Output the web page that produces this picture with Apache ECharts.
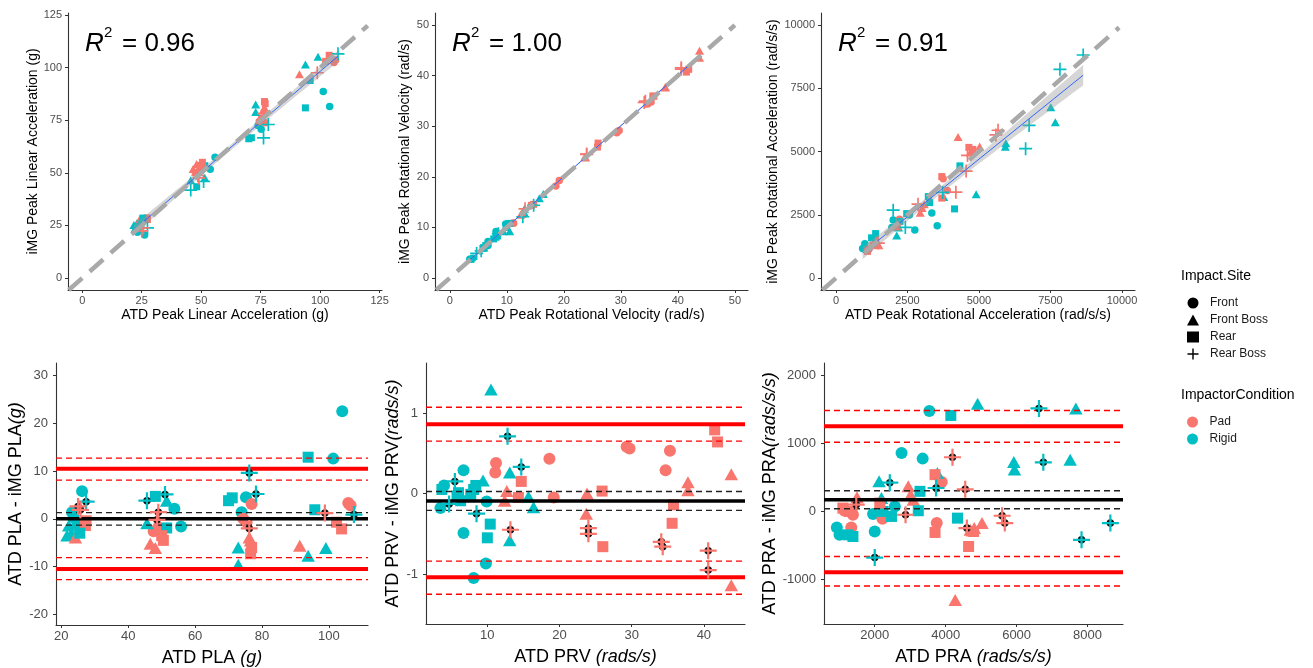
<!DOCTYPE html>
<html><head><meta charset="utf-8">
<script src="https://cdn.jsdelivr.net/npm/echarts@6/dist/echarts.min.js"></script>
<style>html,body{margin:0;padding:0;background:#fff}#c{width:1313px;height:668px}</style>
</head><body><div id="c"></div>
<script>
// ---------------- DATA ----------------
// PLA: ATD peak linear acceleration (g) and ATD - iMG difference
const plaAtd = [26.2,27.4,25.0,25.7,23.2,23.7,23.0,25.2,21.7,24.7,22.2,27.2,27.4,24.2,25.5,
  45.6,48.1,51.0,51.5,53.8,55.8,51.5,49.0,45.6,48.6,46.6,48.1,50.5,50.0,47.6,49.0,
  76.2,70.0,71.1,75.2,78.2,76.9,73.9,74.4,75.4,76.2,76.2,76.6,76.6,76.9,72.9,72.9,
  93.8,101.3,104.0,95.8,98.8,102.3,103.8,105.8,106.5,107.5,91.3,93.8,99.1];
const plaDiff = [5.8,3.6,2.6,1.9,1.4,0.3,-3.1,-2.5,-3.5,-1.0,-1.4,-1.4,-0.4,-3.9,-3.0,
  3.8,4.7,5.1,3.8,2.1,-1.6,-1.9,1.4,-0.9,-0.2,-5.2,-6.1,-4.5,-3.5,-2.6,-1.8,
  9.6,3.8,4.4,4.5,5.2,3.1,1.4,0.0,-0.7,-2.0,-3.9,-4.5,-7.3,-6.0,-6.0,-9.6,
  12.9,12.6,22.5,1.9,1.2,-0.7,-2.1,3.3,2.8,0.9,-5.6,-7.7,-6.1];
const plaSite = ['F','RB','RB','RB','F','F','FB','FB','FB','R','FB','R','R','FB','R',
  'RB','R','RB','FB','F','F','R','RB','FB','RB','FB','FB','R','R','F','F',
  'RB','R','R','F','RB','F','F','F','F','RB','FB','FB','R','R','FB','FB',
  'R','F','F','R','RB','R','R','F','F','RB','FB','FB','FB'];
const plaCond = ['Ri','Ri','P','P','Ri','Ri','Ri','Ri','Ri','Ri','Ri','P','P','P','Ri',
  'Ri','Ri','Ri','Ri','Ri','Ri','Ri','P','Ri','P','P','P','P','P','P','P',
  'Ri','Ri','Ri','Ri','Ri','P','Ri','P','P','P','P','P','P','P','Ri','Ri',
  'Ri','Ri','Ri','Ri','P','P','P','P','P','Ri','P','Ri','Ri'];

// PRV: ATD peak rotational velocity (rad/s) and difference
const prvAtd = [3.5,4.0,3.7,4.7,5.5,6.7,6.7,6.0,6.3,5.8,8.1,8.4,7.7,8.5,9.4,9.9,10.4,10.0,9.8,8.1,10.5,12.8,13.1,13.1,13.2,14.7,15.7,16.4,
  11.2,11.1,12.7,12.4,14.7,14.3,18.6,19.2,23.8,23.7,24.0,24.0,25.9,26.0,29.3,29.7,34.1,34.3,34.7,35.3,35.8,35.6,37.8,37.8,40.6,40.6,41.5,41.9,43.8,43.8];
const prvDiff = [-0.18,0.10,0.05,-0.13,0.15,0.29,-0.49,0.01,-0.09,-0.03,0.05,0.10,-0.01,-0.25,0.16,-0.10,-0.38,-0.55,-0.87,-1.05,1.29,0.71,0.26,-0.58,-0.45,0.33,-0.04,-0.17,
  0.38,0.26,0.03,-0.09,0.15,-0.05,0.43,-0.05,0.00,-0.25,-0.43,-0.50,0.03,-0.66,0.58,0.56,-0.60,-0.66,0.29,0.53,-0.14,-0.37,0.14,0.04,-0.71,-0.95,0.79,0.64,0.24,-1.14];
const prvSite = ['F','F','R','RB','RB','F','F','R','R','R','R','R','R','RB','FB','F','R','R','F','F','FB','RB','FB','FB','RB','RB','FB','FB',
  'F','F','FB','FB','R','R','F','F','FB','FB','RB','RB','R','R','F','F','RB','RB','F','F','R','R','FB','FB','RB','RB','R','R','FB','FB'];
const prvCond = ['Ri','Ri','Ri','Ri','Ri','Ri','Ri','Ri','Ri','Ri','Ri','Ri','Ri','Ri','Ri','Ri','Ri','Ri','Ri','Ri','Ri','Ri','Ri','Ri','P','Ri','Ri','Ri',
  'P','P','P','P','P','P','P','P','P','P','P','P','P','P','P','P','P','P','P','P','P','P','P','P','P','P','P','P','P','P'];

// PRA: ATD peak rotational acceleration (rad/s/s) and difference
const praAtd = [932,1008,1244,1386,1150,1386,1102,1291,1339,1500,1480,2000,2000,1953,2123,2189,2236,2472,2217,2142,
  2425,2567,2756,2869,2945,3011,3087,3351,3276,3228,3748,3700,3700,3767,3729,3890,3540,4145,4192,4334,
  4268,4551,4598,4693,4806,4787,4646,5024,4901,5591,5667,5921,5940,6630,6753,7509,7830,7669,8643];
const praDiff = [-236,-345,-345,-370,10,-49,49,0,-236,207,99,-296,-680,-39,443,197,0,-74,-108,123,
  424,74,862,-49,369,246,172,778,296,10,-172,-310,542,567,345,433,1478,1414,798,-99,
  -1305,325,-246,-271,-246,-296,-517,-172,1586,-64,-172,729,616,1517,724,763,-419,1517,-172];
const praSite = ['F','F','R','R','F','F','R','R','F','FB','RB','F','RB','F','FB','FB','R','R','F','R',
  'RB','F','F','RB','FB','FB','FB','F','R','R','F','R','R','FB','RB','F','F','R','RB','R',
  'FB','RB','RB','FB','FB','R','R','FB','FB','RB','RB','FB','FB','RB','RB','FB','RB','FB','RB'];
const praCond = ['Ri','Ri','Ri','Ri','P','P','P','P','P','P','P','Ri','Ri','Ri','Ri','Ri','Ri','Ri','P','P',
  'Ri','Ri','Ri','P','P','P','P','Ri','Ri','Ri','P','P','P','Ri','Ri','P','Ri','Ri','P','Ri',
  'P','P','P','P','P','P','P','P','Ri','P','P','Ri','Ri','Ri','Ri','Ri','Ri','Ri','Ri'];

// Bland-Altman reference lines: bias, bias CI, limits of agreement, LoA CIs
const plaBias = [0.0]; const plaBiasCi = [-1.3, 1.3];
const plaLoa = [-10.5, 10.5]; const plaLoaCi = [-12.7, -8.1, 8.1, 12.7];
const prvBias = [-0.092]; const prvBiasCi = [-0.21, 0.025];
const prvLoa = [-1.04, 0.86]; const prvLoaCi = [-1.25, -0.84, 0.65, 1.07];
const praBias = [172]; const praBiasCi = [39, 305];
const praLoa = [-897, 1256]; const praLoaCi = [-1098, -665, 1020, 1488];

// R squared labels
const r2Labels = ['0.96', '1.00', '0.91'];

// Tick labels
const plaTopTicks = [0, 25, 50, 75, 100, 125];
const prvTopTicks = [0, 10, 20, 30, 40, 50];
const praTopTicks = [0, 2500, 5000, 7500, 10000];
const plaAtdTicks = [20, 40, 60, 80, 100];
const plaDiffTicks = [-20, -10, 0, 10, 20, 30];
const prvAtdTicks = [10, 20, 30, 40];
const prvDiffTicks = [-1, 0, 1];
const praAtdTicks = [2000, 4000, 6000, 8000];
const praDiffTicks = [-1000, 0, 1000, 2000];

// Legend categories
const siteKeys = ['F', 'FB', 'R', 'RB'];
const siteNames = ['Front', 'Front Boss', 'Rear', 'Rear Boss'];
const condKeys = ['P', 'Ri'];
const condNames = ['Pad', 'Rigid'];

// ---------------- STYLE / LAYOUT ----------------
const FONT = 'Liberation Sans, Arial, sans-serif';
const COL = {P: '#F8766D', Ri: '#00BFC4'};
const PLUS = 'path://M4.35,0H5.65V4.35H10V5.65H5.65V10H4.35V5.65H0V4.35H4.35Z';
const SYM = {F: 'circle', FB: 'triangle', R: 'rect', RB: PLUS};
const SIZE_TOP = {F: 7.5, FB: [9, 8], R: 7, RB: 13};
const SIZE_BOT = {F: 12, FB: [13.5, 12], R: 11, RB: 17};

const grids = [
  {left: 68, top: 13, width: 314, height: 277},
  {left: 435, top: 13, width: 313, height: 277},
  {left: 821, top: 13, width: 314, height: 277},
  {left: 56, top: 363, width: 312, height: 262},
  {left: 426, top: 363, width: 319, height: 261},
  {left: 824, top: 363, width: 299, height: 261}
];

const panels = [
  {atd: plaAtd, diff: plaDiff, site: plaSite, cond: plaCond, top: true,
   xr: [-6, 126], yr: [-5.7, 126], xt: plaTopTicks, yt: plaTopTicks, idEnd: 120,
   xn: 'ATD Peak Linear Acceleration (g)', yn: 'iMG Peak Linear Acceleration (g)', yGap: 26},
  {atd: prvAtd, diff: prvDiff, site: prvSite, cond: prvCond, top: true,
   xr: [-2.6, 52.3], yr: [-2.4, 52.4], xt: prvTopTicks, yt: prvTopTicks, idEnd: 50,
   xn: 'ATD Peak Rotational Velocity (rad/s)', yn: 'iMG Peak Rotational Velocity (rad/s)', yGap: 23},
  {atd: praAtd, diff: praDiff, site: praSite, cond: praCond, top: true,
   xr: [-524, 10455], yr: [-474, 10474], xt: praTopTicks, yt: praTopTicks, idEnd: 9900,
   xn: 'ATD Peak Rotational Acceleration (rad/s/s)', yn: 'iMG Peak Rotational Acceleration (rad/s/s)', yGap: 39},
  {atd: plaAtd, diff: plaDiff, site: plaSite, cond: plaCond, top: false,
   xr: [18.4, 111.7], yr: [-22.2, 32.6], xt: plaAtdTicks, yt: plaDiffTicks,
   bias: plaBias, biasCi: plaBiasCi, loa: plaLoa, loaCi: plaLoaCi,
   xn: '{n|ATD PLA }{i|(g)}', yn: '{n|ATD PLA - iMG PLA}{i|(g)}', yGap: 30},
  {atd: prvAtd, diff: prvDiff, site: prvSite, cond: prvCond, top: false,
   xr: [1.5, 45.7], yr: [-1.62, 1.62], xt: prvAtdTicks, yt: prvDiffTicks,
   bias: prvBias, biasCi: prvBiasCi, loa: prvLoa, loaCi: prvLoaCi,
   xn: '{n|ATD PRV }{i|(rads/s)}', yn: '{n|ATD PRV - iMG PRV}{i|(rads/s)}', yGap: 24},
  {atd: praAtd, diff: praDiff, site: praSite, cond: praCond, top: false,
   xr: [570, 8999], yr: [-1659, 2187], xt: praAtdTicks, yt: praDiffTicks,
   bias: praBias, biasCi: praBiasCi, loa: praLoa, loaCi: praLoaCi,
   xn: '{n|ATD PRA }{i|(rads/s/s)}', yn: '{n|ATD PRA - iMG PRA}{i|(rads/s/s)}', yGap: 44}
];

const xAxes = [], yAxes = [], series = [], graphics = [];

function axisBase(p, i, isX) {
  const fs = p.top ? 11 : 13;
  const nfs = p.top ? 14 : 18;
  const ticks = isX ? p.xt : p.yt;
  const r = isX ? p.xr : p.yr;
  return {
    type: 'value', gridIndex: i, min: r[0], max: r[1], scale: true,
    splitLine: {show: false},
    axisLine: {show: true, onZero: false, lineStyle: {color: '#333', width: 1.1}},
    axisTick: {show: true, length: 3, customValues: ticks, lineStyle: {color: '#333', width: 1}},
    axisLabel: {customValues: ticks, color: '#4D4D4D', fontSize: fs, fontFamily: FONT,
      margin: isX ? 5 : (p.top ? 6 : 8), formatter: v => String(v)},
    name: isX ? p.xn : p.yn, nameLocation: 'middle',
    nameGap: isX ? (p.top ? 18 : 24) : p.yGap,
    nameTextStyle: {fontSize: nfs, fontFamily: FONT, color: '#000',
      rich: {n: {fontSize: nfs, fontFamily: FONT, color: '#000'},
             i: {fontSize: nfs, fontFamily: FONT, color: '#000', fontStyle: 'italic'}}}
  };
}

function lm(xs, ys) {
  const n = xs.length;
  let mx = 0, my = 0;
  for (let k = 0; k < n; k++) { mx += xs[k]; my += ys[k]; }
  mx /= n; my /= n;
  let sxx = 0, sxy = 0;
  for (let k = 0; k < n; k++) { sxx += (xs[k] - mx) ** 2; sxy += (xs[k] - mx) * (ys[k] - my); }
  const b = sxy / sxx, a = my - b * mx;
  let sse = 0;
  for (let k = 0; k < n; k++) sse += (ys[k] - a - b * xs[k]) ** 2;
  const s = Math.sqrt(sse / (n - 2));
  return {a, b, s, n, mx, sxx};
}

function hline(i, p, v, color, width, type, z) {
  series.push({type: 'line', xAxisIndex: i, yAxisIndex: i, silent: true, symbol: 'none', z: z,
    data: [[p.xr[0], v], [p.xr[1], v]], lineStyle: {color, width, type}, animation: false});
}

panels.forEach((p, i) => {
  grids[i].containLabel = false;
  xAxes.push(axisBase(p, i, true));
  yAxes.push(axisBase(p, i, false));
  const yv = p.atd.map((x, k) => p.top ? x - p.diff[k] : p.diff[k]);
  const sizes = p.top ? SIZE_TOP : SIZE_BOT;
  siteKeys.forEach((sk, si) => {
    const data = [];
    p.atd.forEach((x, k) => {
      if (p.site[k] === sk) data.push({value: [x, yv[k]], itemStyle: {color: COL[p.cond[k]], opacity: 1}});
    });
    series.push({type: 'scatter', name: siteNames[si], xAxisIndex: i, yAxisIndex: i,
      symbol: SYM[sk], symbolSize: sizes[sk], symbolKeepAspect: false,
      itemStyle: {opacity: 1},
      z: (!p.top && sk === 'RB') ? 6 : 2, data, animation: false, silent: true});
    if (!p.top && sk === 'RB') {
      series.push({type: 'scatter', name: 'rbDot', xAxisIndex: i, yAxisIndex: i,
        symbol: 'circle', symbolSize: 7.5, itemStyle: {color: '#111', opacity: 1}, z: 5,
        data: data.map(d => d.value), animation: false, silent: true});
    }
  });
  if (p.top) {
    // regression line + 95% CI (geom_smooth lm)
    const f = lm(p.atd, yv);
    const x0 = Math.min(...p.atd), x1 = Math.max(...p.atd);
    const band = [];
    for (let k = 0; k <= 40; k++) {
      const x = x0 + (x1 - x0) * k / 40;
      const se = f.s * Math.sqrt(1 / f.n + (x - f.mx) ** 2 / f.sxx);
      const yh = f.a + f.b * x;
      band.push([x, yh - 1.98 * se, yh + 1.98 * se]);
    }
    series.push({type: 'custom', xAxisIndex: i, yAxisIndex: i, silent: true, z: 3, clip: true,
      data: band, encode: {x: 0, y: [1, 2]}, animation: false,
      renderItem: function (params, api) {
        if (params.dataIndex !== 0) return null;
        const pts = [];
        band.forEach(b => pts.push(api.coord([b[0], b[2]])));
        for (let k = band.length - 1; k >= 0; k--) pts.push(api.coord([band[k][0], band[k][1]]));
        return {type: 'polygon', shape: {points: pts}, style: {fill: 'rgba(153,153,153,0.4)'}};
      }});
    series.push({type: 'line', xAxisIndex: i, yAxisIndex: i, silent: true, symbol: 'none', z: 4,
      data: [[x0, f.a + f.b * x0], [x1, f.a + f.b * x1]],
      lineStyle: {color: '#3366FF', width: 1}, animation: false});
    // identity line
    const lo = Math.max(p.xr[0], p.yr[0]);
    series.push({type: 'line', xAxisIndex: i, yAxisIndex: i, silent: true, symbol: 'none', z: 5,
      data: [[lo, lo], [p.idEnd, p.idEnd]],
      lineStyle: {color: '#A9A9A9', width: 4.5, type: [18, 10], cap: 'butt'}, animation: false});
    // R^2 annotation
    const gx = grids[i].left + 17;
    graphics.push({type: 'text', x: gx, y: 44, style: {text: 'R', fontSize: 26, fontStyle: 'italic', fontFamily: FONT, fill: '#000', verticalAlign: 'middle'}});
    graphics.push({type: 'text', x: gx + 19, y: 33, style: {text: '2', fontSize: 15, fontFamily: FONT, fill: '#000', verticalAlign: 'middle'}});
    graphics.push({type: 'text', x: gx + 37, y: 44, style: {text: '= ' + r2Labels[i], fontSize: 26, fontFamily: FONT, fill: '#000', verticalAlign: 'middle'}});
  } else {
    p.loaCi.forEach(v => hline(i, p, v, '#FF0000', 1.4, [6, 4], 3));
    p.loa.forEach(v => hline(i, p, v, '#FF0000', 4, 'solid', 3));
    p.biasCi.forEach(v => hline(i, p, v, '#222', 1.4, [6, 4], 3));
    p.bias.forEach(v => hline(i, p, v, '#000', 3.5, 'solid', 3));
  }
});

// dummy series for the colour legend
condKeys.forEach((ck, ci) => {
  series.push({type: 'scatter', name: condNames[ci], xAxisIndex: 0, yAxisIndex: 0, data: [],
    itemStyle: {color: COL[ck], opacity: 1}, symbol: 'circle'});
});

graphics.push({type: 'text', x: 1181, y: 276, style: {text: 'Impact.Site', fontSize: 14, fontFamily: FONT, fill: '#000', verticalAlign: 'middle'}});
graphics.push({type: 'text', x: 1181, y: 395, style: {text: 'ImpactorCondition', fontSize: 14, fontFamily: FONT, fill: '#000', verticalAlign: 'middle'}});

const legendText = {fontSize: 12, fontFamily: FONT, color: '#1A1A1A', lineHeight: 14, padding: [0, 0, 0, 6]};
const siteIcons = ['circle', 'triangle', 'rect', PLUS];

const option = {
  animation: false,
  backgroundColor: '#fff',
  grid: grids,
  xAxis: xAxes,
  yAxis: yAxes,
  series: series,
  graphic: graphics,
  legend: [
    {data: siteNames.map((n, k) => ({name: n, icon: siteIcons[k], itemStyle: {color: '#000'}})),
     orient: 'vertical', left: 1182, top: 291, itemWidth: 12, itemHeight: 11, itemGap: 3,
     selectedMode: false, textStyle: legendText, itemStyle: {color: '#000', borderWidth: 0}},
    {data: condNames.map(n => ({name: n, icon: 'circle'})),
     orient: 'vertical', left: 1182, top: 410, itemWidth: 12, itemHeight: 11, itemGap: 3,
     selectedMode: false, textStyle: legendText}
  ]
};

const chart = echarts.init(document.getElementById('c'), null, {renderer: 'canvas'});
chart.setOption(option);
</script></body></html>
